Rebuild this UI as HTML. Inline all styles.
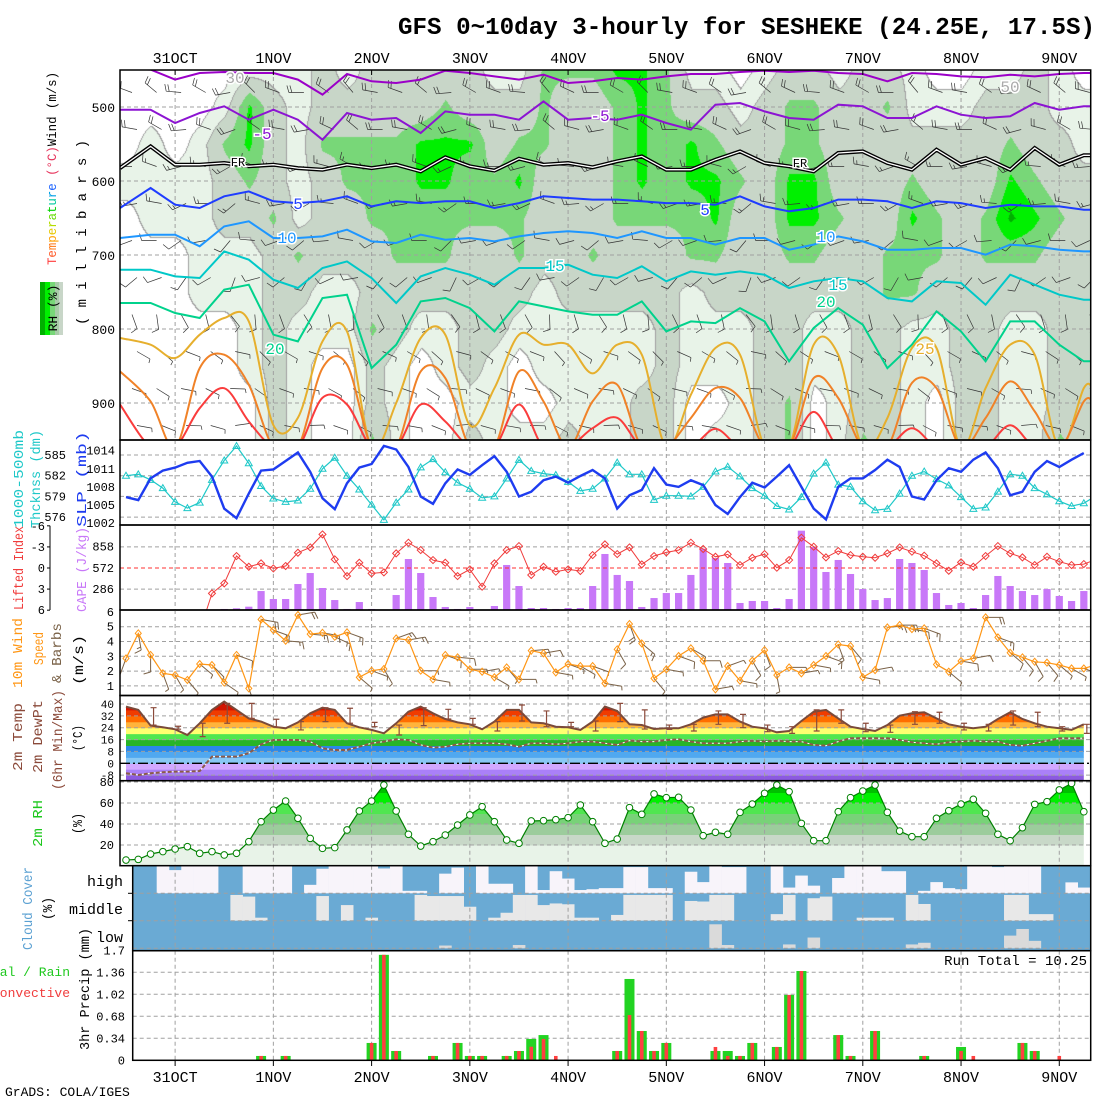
<!DOCTYPE html>
<html><head><meta charset="utf-8">
<style>
body{margin:0;background:#fff;}
#wrap{position:relative;width:1100px;height:1100px;overflow:hidden;background:#fff;}
#rhc{position:absolute;left:120px;top:70px;}
#s{position:absolute;left:0;top:0;}
text{font-family:"Liberation Mono",monospace;}
</style></head>
<body>
<div id="wrap">
<canvas id="rhc" width="971" height="370"></canvas>
<svg id="s" width="1100" height="1100" xmlns="http://www.w3.org/2000/svg">
<defs>
<clipPath id="c1"><rect x="120" y="70" width="970.7" height="370"/></clipPath>
<clipPath id="c2"><rect x="120" y="440" width="970.7" height="85"/></clipPath>
<clipPath id="c3"><rect x="120" y="525" width="970.7" height="85"/></clipPath>
<clipPath id="c4"><rect x="120" y="610" width="970.7" height="85.5"/></clipPath>
<clipPath id="c5"><rect x="120" y="695.5" width="970.7" height="85.2"/></clipPath>
<clipPath id="c6"><rect x="120" y="780.7" width="970.7" height="85"/></clipPath>
<clipPath id="c7"><rect x="132.7" y="865.7" width="958" height="85"/></clipPath>
<clipPath id="c8"><rect x="132.7" y="950.7" width="958" height="109.6"/></clipPath>
</defs>
<text x="398" y="34" font-size="24" font-weight="bold" textLength="697" lengthAdjust="spacingAndGlyphs">GFS 0~10day 3-hourly for SESHEKE (24.25E, 17.5S)</text>

<g>
<rect x="40" y="282" width="5" height="53" fill="#00b000"/><rect x="45" y="282" width="5" height="53" fill="#00f000"/><rect x="50" y="282" width="5" height="53" fill="#78d778"/><rect x="55" y="282" width="4" height="53" fill="#a8cca8"/><rect x="59" y="282" width="4" height="53" fill="#c8d6c8"/>
<text transform="translate(57,308) rotate(-90)" font-size="13" text-anchor="middle">RH (%)</text>
</g>
<text transform="translate(56,265) rotate(-90)" font-size="13" textLength="193" lengthAdjust="spacingAndGlyphs"><tspan fill="#ff3c3c">T</tspan><tspan fill="#ff5a28">e</tspan><tspan fill="#ff7814">m</tspan><tspan fill="#ffa000">p</tspan><tspan fill="#e6c800">e</tspan><tspan fill="#b4dc00">r</tspan><tspan fill="#64dc00">a</tspan><tspan fill="#00d200">t</tspan><tspan fill="#00c8a0">u</tspan><tspan fill="#00a0e6">r</tspan><tspan fill="#1e64ff">e</tspan><tspan fill="#e6325a"> (°C)</tspan><tspan fill="#000">Wind (m/s)</tspan></text>
<text transform="translate(86,325) rotate(-90)" font-size="14" textLength="185" lengthAdjust="spacing">( m i l l i b a r s )</text>

<text transform="translate(23,528) rotate(-90)" font-size="14" fill="#1ec8c8" textLength="98" lengthAdjust="spacingAndGlyphs">1000-500mb</text>
<text transform="translate(40,528) rotate(-90)" font-size="14" fill="#1ec8c8" textLength="98" lengthAdjust="spacingAndGlyphs">Thcknss (dm)</text>
<text transform="translate(86,527) rotate(-90)" font-size="14" fill="#1e3cf0" textLength="96" lengthAdjust="spacingAndGlyphs">SLP (mb)</text>
<text transform="translate(23,610) rotate(-90)" font-size="14" fill="#f03c3c" textLength="84" lengthAdjust="spacingAndGlyphs">Lifted Index</text>
<text transform="translate(86,612) rotate(-90)" font-size="14" fill="#c878f8" textLength="85" lengthAdjust="spacingAndGlyphs">CAPE (J/kg)</text>
<text transform="translate(22,688) rotate(-90)" font-size="14" fill="#ff9614" textLength="70" lengthAdjust="spacingAndGlyphs">10m Wind</text>
<text transform="translate(43,665) rotate(-90)" font-size="14" fill="#ff9614" textLength="33" lengthAdjust="spacingAndGlyphs">Speed</text>
<text transform="translate(61,683) rotate(-90)" font-size="14" fill="#7a6248" textLength="60" lengthAdjust="spacingAndGlyphs">&amp; Barbs</text>
<text transform="translate(83,685) rotate(-90)" font-size="14" textLength="50" lengthAdjust="spacingAndGlyphs">(m/s)</text>
<text transform="translate(22,771) rotate(-90)" font-size="14" fill="#8b4a3a" textLength="68" lengthAdjust="spacingAndGlyphs">2m Temp</text>
<text transform="translate(42,773) rotate(-90)" font-size="14" fill="#8b4a3a" textLength="73" lengthAdjust="spacingAndGlyphs">2m DewPt</text>
<text transform="translate(62,790) rotate(-90)" font-size="14" fill="#8b4a3a" textLength="100" lengthAdjust="spacingAndGlyphs">(6hr Min/Max)</text>
<text transform="translate(82,751) rotate(-90)" font-size="14" textLength="26" lengthAdjust="spacingAndGlyphs">(°C)</text>
<text transform="translate(42,847) rotate(-90)" font-size="14" fill="#1ec81e" textLength="47" lengthAdjust="spacingAndGlyphs">2m RH</text>
<text transform="translate(82,834) rotate(-90)" font-size="14" textLength="21" lengthAdjust="spacingAndGlyphs">(%)</text>
<text transform="translate(32,950) rotate(-90)" font-size="14" fill="#5aa0d2" textLength="83" lengthAdjust="spacingAndGlyphs">Cloud Cover</text>
<text transform="translate(52,920) rotate(-90)" font-size="14" textLength="23" lengthAdjust="spacingAndGlyphs">(%)</text>
<text x="123" y="886" font-size="15" text-anchor="end">high</text>
<text x="123" y="914" font-size="15" text-anchor="end">middle</text>
<text x="123" y="942" font-size="15" text-anchor="end">low</text>
<text x="70" y="976" font-size="13" fill="#1ec81e" text-anchor="end">Total / Rain</text>
<text x="70" y="997" font-size="13" fill="#f03c3c" text-anchor="end">Convective</text>
<text transform="translate(89,1050) rotate(-90)" font-size="14" textLength="122" lengthAdjust="spacingAndGlyphs">3hr Precip (mm)</text>
<text x="1087" y="965" font-size="14" text-anchor="end">Run Total = 10.25</text>
<text x="5" y="1096" font-size="13">GrADS: COLA/IGES</text>
<g id="dyn"></g>
</svg>
</div>
<script>
const dayLabels=["31OCT","1NOV","2NOV","3NOV","4NOV","5NOV","6NOV","7NOV","8NOV","9NOV"];
const slp=[1006.3,1005.8,1009.4,1010.7,1011.2,1012.0,1012.3,1009.7,1004.4,1002.8,1006.9,1010.7,1010.9,1012.3,1013.7,1010.5,1006.1,1004.3,1008.6,1011.2,1011.8,1014.8,1014.2,1011.3,1006.4,1005.2,1008.6,1010.9,1010.0,1011.6,1013.1,1010.5,1006.4,1007.2,1009.1,1009.7,1008.7,1009.8,1010.8,1009.4,1004.4,1006.6,1007.5,1011.1,1008.4,1008.0,1009.1,1008.3,1005.0,1003.5,1006.3,1008.7,1007.9,1009.7,1011.6,1008.0,1004.4,1002.6,1008.0,1009.4,1009.4,1010.8,1012.5,1011.3,1006.4,1005.9,1009.1,1011.1,1010.5,1012.5,1013.7,1011.1,1006.6,1007.2,1010.5,1012.3,1011.3,1012.5,1013.6];
const thick=[582.0,582.2,581.4,580.2,578.2,577.3,578.1,581.4,584.2,586.3,583.8,580.5,578.7,578.2,578.4,580.1,583.0,584.6,582.0,580.0,577.8,575.6,578.1,580.0,583.2,584.4,582.5,581.0,580.1,578.8,579.0,581.6,584.3,582.7,582.3,582.1,581.1,579.8,580.1,581.6,583.9,582.2,582.2,578.5,579.1,579.1,579.0,580.4,582.6,583.3,581.9,580.2,579.1,577.6,577.1,578.9,582.3,583.9,580.7,580.4,578.3,577.0,577.2,579.4,582.0,582.6,581.5,580.6,578.9,577.2,577.4,579.7,582.2,582.0,580.2,579.3,578.3,577.6,578.0,579.1];
const liftedIndex=[null,null,null,null,null,null,9,3.61,2.19,-1.7,-0.18,-0.66,0.06,-0.28,-2.17,-2.93,-4.78,-1.23,1.15,-0.75,0.77,0.62,-2.08,-3.6,-2.55,-1.13,-0.75,1.15,0.2,2.66,-0.66,-2.55,-3.12,1.0,-0.18,0.53,0.2,0.43,-1.84,-3.36,-1.98,-2.93,-0.51,-1.7,-2.22,-2.55,-3.6,-2.7,-1.6,-1.94,-0.42,-1.46,-1.98,-0.04,-1.13,-4.31,-3.03,-1.51,-2.41,-1.84,-1.6,-1.46,-2.08,-2.93,-2.32,-1.75,-0.66,0.39,-0.8,-0.18,-1.7,-3.12,-2.08,-1.51,-0.42,-1.6,-0.89,-0.42,-0.56,-1.23];
const cape=[0,0,0,0,0,0,0,0,14,23,45,257,149,149,352,501,298,135,14,108,14,0,203,691,501,176,41,14,41,0,54,610,325,27,27,14,27,27,325,759,475,393,41,162,230,230,475,831,705,637,95,122,122,27,149,1075,854,515,678,488,284,135,162,691,637,542,230,68,95,27,203,461,325,257,203,284,190,122,257];
const windSpeed=[2.86,4.55,3.09,1.85,1.73,1.4,2.48,2.41,1.22,3.09,0.83,5.49,4.77,4.05,5.79,4.5,4.59,4.32,4.62,1.58,2.03,2.14,4.21,4.1,2.03,1.44,3.09,2.93,2.12,1.96,1.58,2.25,1.44,3.38,3.2,1.91,2.48,2.34,2.34,1.17,3.47,5.18,3.87,1.51,2.12,3.02,3.54,2.7,0.77,2.34,1.35,2.7,3.42,1.73,2.25,1.85,2.41,3.02,3.8,3.69,1.58,2.07,4.95,5.11,4.84,4.89,2.45,1.96,2.68,2.86,5.63,4.28,3.24,2.93,2.63,2.57,2.41,2.18,2.18,2.41];
const windDir=[200,170,180,160,150,140,130,135,125,110,160,100,110,95,80,95,100,115,110,130,110,150,70,80,90,100,110,95,90,80,120,140,90,85,80,100,110,120,110,100,150,160,130,140,100,110,120,90,80,70,100,150,160,170,90,80,100,110,160,140,100,80,85,90,100,110,120,130,100,80,90,110,130,140,150,140,130,120,110,100];
const temp2m=[38.2,36,25.4,24.3,22.9,19.1,27,36,41.6,36,30.3,28.1,24.7,23.6,27.6,33.7,37.5,36,27,24.3,22.5,20.2,27,34.8,38.2,33.7,29.9,27.6,26.3,22.9,28.1,36,36,27.6,27,24.7,24.3,22.5,28.1,38.2,35.3,26.3,25.8,23.1,23.6,23.6,26.3,30.8,33,33,28.1,24.7,23.6,20.9,21.8,28.5,34.8,36,30.3,24.7,23.1,21.8,25.8,32.1,33.7,34.4,30.3,26.3,24.7,23.6,24.7,29.9,34.4,29.9,27,24.7,23.6,22.5,26.3];
const dew2m=[-6.7,-7.9,-6.7,-6.1,-5.6,-5.6,-5.2,4.5,4.5,4.5,6.8,12.8,15.7,15.7,15.7,14.6,10.1,9,9,11.2,13.5,14.6,16.2,15.7,12.4,10.6,11.2,12.8,13.5,13.5,13.5,12.8,11.2,13.5,13.5,12.8,13.5,14.6,14.6,13.5,12.4,15.3,14.6,14.6,15.7,16.2,14.6,13.5,13.5,13.5,14.6,15.1,14.6,15.1,14.6,14.6,12.4,11.9,14.6,16.9,16.9,16.9,16.9,15.7,14.2,13.5,12.8,14.2,14.6,15.1,14.6,14.6,12.4,11.9,13.5,15.1,16.9,16.9,16.9];
const tMax6h=[null,37.5,25,27,40.4,40.4,29.7,28.1,37.5,37.1,27.6,25.8,37.5,36.4,30.3,28.1,39.3,35.3,27.6,28.5,40.4,36,25.8,26.3,35.3,33,25.8,24.7,36,36,27,25.8,34.8,34.4,27,26.3,35.3,34.4,24.7,26.3];
const tMin6h=[null,25.8,23,18,27,30.3,24.3,22.5,28.1,27,24.7,19.1,25.4,29.9,26.3,21.8,28.5,24.7,24.7,21.8,28.1,23.1,22.9,21.8,26.3,24,21.3,20.2,21.8,27,21.3,20.9,26.3,27,22.5,21.8,25.8,24.7,21.8,20.2];
const rh2m=[5.7,6.3,11.4,13.7,16.2,18.4,12.1,13.7,10.5,12.1,23.2,42.2,53.3,61.9,45.4,26.3,16.8,17.5,34.3,52.4,61.9,77.1,52.4,30.2,19,23.2,29.5,39,48.6,56.5,42.2,24.8,21.6,42.9,43.2,44.1,46,58.1,42.2,21.6,25.7,55.6,49.2,68.6,65.1,65.4,53.3,28.9,32.1,30.2,51.1,59,69.2,77.1,70.8,40.6,24.1,24.1,51.7,65.1,71.4,77.1,51.1,33.3,27.9,27.9,45.4,52.7,59,63.5,50.2,30.2,24.1,36.5,58.7,61.3,72.4,78.7,51.7];
const cloudHigh=[100,100,100,0,15,0,0,0,100,100,0,0,0,0,100,69,10,0,0,0,0,9,0,91,91,100,28,6,100,0,65,65,100,0,88,19,46,88,85,81,81,4,4,81,81,100,21,59,0,4,4,100,100,0,79,35,72,100,44,0,0,0,19,19,100,91,59,81,85,0,0,4,0,0,0,100,100,60,79];
const cloudMid=[100,100,100,100,100,100,100,100,100,6,12,89,100,100,100,100,10,100,43,100,89,100,100,100,6,10,10,10,49,100,89,71,6,6,43,37,40,89,89,100,79,6,6,6,6,100,28,30,6,6,100,100,100,76,6,100,18,12,100,100,89,89,89,100,6,39,100,100,100,100,100,100,6,6,76,76,100,100,100];
const cloudLow=[100,100,100,100,100,100,100,100,100,100,100,100,100,100,100,100,100,100,100,100,100,100,100,100,100,100,90,100,100,100,100,100,88,100,100,100,100,100,100,100,100,100,100,100,100,100,100,100,13,88,100,100,100,100,86,100,61,100,100,100,100,100,100,100,86,80,100,100,100,100,100,100,54,30,73,100,100,100,100];
const precipTotal=[0,0,0,0,0,0,0,0,0,0,0,0.067,0,0.067,0,0,0,0,0,0,0.268,1.63,0.144,0,0,0.067,0,0.268,0.067,0.067,0,0.067,0.144,0.33,0.39,0,0,0,0,0,0.144,1.257,0.453,0.144,0.268,0,0,0,0.144,0.144,0.067,0.268,0,0.206,1.01,1.38,0,0,0.39,0.067,0,0.453,0,0,0,0.067,0,0,0.206,0,0,0,0,0.268,0.144,0,0,0,0];
const precipConv=[0,0,0,0,0,0,0,0,0,0,0,0.067,0,0.067,0,0,0,0,0,0,0.268,1.63,0.144,0,0,0.067,0,0.268,0.067,0.067,0,0.067,0.144,0.21,0.33,0.067,0,0,0,0,0.144,0.70,0.453,0.144,0.268,0,0,0,0.206,0.067,0.067,0.268,0,0.206,1.01,1.38,0,0,0.39,0.067,0,0.453,0,0,0,0.067,0,0,0.144,0.067,0,0,0,0.268,0.144,0,0.067,0,0];
const isoM10=[448,449.5,463,454,452.7,454,454,463,483.3,455.4,465.3,467.6,463,450.9,454,458.6,463,456.3,467.6,465.3,460.8,463,458.6,455.4,455.4,452.7,450.9,452.7,450.9,454,455.4,465.3,454,455.4,458.6,459.9,456.3,458.6,455.4,454];
const isoM5=[503.6,503.6,521.6,508.1,499.1,517.1,503.6,517.1,544.2,508.1,517.1,514.9,535.1,505.9,510.4,510.4,517.1,492.4,517.1,514.9,517.1,510.4,521.6,530.6,496.9,494.6,505.9,514.9,517.1,496.9,499.1,514.9,514.9,499.1,510.4,514.9,512.6,494.6,503.6,499.1];
const iso0=[582.5,553.2,578,578,575.7,580.2,578,582.5,584.7,578,582.5,578,587,568,580.2,586,569.8,578,575.7,581.5,573.4,566.7,584.7,584.7,571.2,560,575.7,580.2,587,562.2,560,575.7,584.7,557.7,578,569,584.7,555.4,578,565.3];
const iso5=[636.5,609.5,632,636.5,620.7,614,627.5,629.8,627.5,620.7,634.3,627.5,629.8,627.5,627.5,636.5,629.8,620.7,623,625.2,625.2,627.5,629.8,629.8,632,620.7,634.3,641,636.5,625.2,625.2,627.5,636.5,627.5,629.8,636.5,632,634.3,634.3,638.8];
const iso10=[677,672.5,672.5,688.3,661.3,654.5,677,677,674.8,665.8,681.6,683.8,672.5,679.3,677,681.6,674.8,670.3,668,670.3,677,668,677,677,686,677,677,692.8,686,674.8,681.6,692.8,692.8,690.6,690.6,699.6,686,688.3,692.8,695.1];
const iso15=[719.9,719.9,728.9,731.1,695.1,706.3,733.4,744.6,717.6,708.6,731.1,764.9,728.9,717.6,726.6,740.1,717.6,717.6,713.1,726.6,731.1,715.3,735.6,722.1,726.6,722.1,726.6,744.6,735.6,731.1,735.6,758.1,762.7,735.6,737.9,767.2,726.6,740.1,753.6,760.4];
const iso20=[764.9,764.9,778.4,785.2,746.9,740.1,807.7,816.7,758.1,753.6,852.8,821.2,762.7,758.1,771.7,803.2,762.7,769.4,776.2,780.7,780.7,762.7,803.2,789.7,792,771.7,789.7,843.7,798.7,771.7,794.2,852.8,821.2,776.2,803.2,843.7,789.7,789.7,821.2,843.7];
const iso25=[812.2,821.2,839.2,807.7,785.2,789.7,930,920,816.7,803.2,960,900,812.2,807.7,930,880,807.7,821.2,821.2,860,821.2,834.7,960,888.8,825.7,834.7,960,960,821.2,834.7,960,920.3,825.7,825.7,960,879.8,821.2,834.7,960,879.8];
const iso30=[857.3,897.8,960,852.8,834.7,875.3,960,960,852.8,848.3,960,960,857.3,866.3,960,960,857.3,897.8,960,897.8,875.3,960,960,920.3,879.8,893.3,960,960,866.3,893.3,960,960,873,879.8,960,920.3,870.8,911.3,960,897.8];
const iso35=[902,960,960,907,880,925,960,960,893,902,960,960,902,925,960,960,902,960,960,934,920,960,960,960,935,960,960,960,912,960,960,960,934,960,960,960,930,960,960,960];
const rhBand450="0000011121222221133344311012212210011210";
const rhBand500="0000142122222322232234322123322311122211";
const rhBand550="0101342133334442332234343223322222223221";
const rhBand600="1111232123334433422234344324422232224322";
const rhBand650="0111223122333333322233334224432243235432";
const rhBand700="0001112322233322322322233223322333233322";
const rhBand750="0001112211222222212222212222222332222222";
const rhBand800="0000012111321122111111211122112211221122";
const rhBand850="0000012100210121011111211122112211221122";
const rhBand900="0000002100210011001112200123012210221122";
const rhBand950="0000002100310021112112201123013210221132";
const upperDir=[290,280,270,260,250,230,160,120,110,100];
const upperSpd=[12,10,9,8,6,5,5,4,4,3];
const upperColTurn=[0,20,-15,10,-30,25,0,-20,15,30,-10,0,20,-25,10,0,-15,30,5,-20,10,25,-10,0,15,-30,20,5,-15,0,10,-20,30,0,-10,15,-25,5,20,-5];

const X0=126, DX=12.28, PL=120, PR=1090.7;
function xi(i){return X0+DX*i;}
function xd(d){return xi(4+8*d);}
function yP(p){return 70+(p-450)*0.74;}
function ySLP(v){return 450.7+(1014-v)*6.03;}
function yThk(v){return 455+(585-v)*6.9;}
function yLI(v){return 568+v*7.03;}
function yCAPE(v){return 610-v/13.55;}
function ySpd(v){return 626.7+(5-v)*14.8;}
function yT(v){return 763.3-1.483*v;}
function yRH(v){return 866-1.05*v;}
function yPr(v){return 1060.3-v*64.7;}

const NS='http://www.w3.org/2000/svg';
const root=document.getElementById('dyn');
function el(tag,parent){const e=document.createElementNS(NS,tag);(parent||root).appendChild(e);return e;}
function at(e,o){for(const k in o)e.setAttribute(k,o[k]);return e;}
function grp(name,clip){const g=el('g');if(clip)g.setAttribute('clip-path','url(#'+clip+')');


return g;}
function hgrid(g,y,x1,x2,col){const l=at(el('line',g),{x1:x1,x2:x2,y1:y,y2:y,stroke:col||'#a0a0a0','stroke-width':1,'stroke-dasharray':'4,3'});

}
function vgrids(g,y1,y2){for(let d=0;d<dayLabels.length;d++){const l=at(el('line',g),{x1:xd(d),x2:xd(d),y1:y1,y2:y2,stroke:'#a0a0a0','stroke-width':1,'stroke-dasharray':'4,3'});

}}
function label(g,x,y,txt,size,anchor,fill,name){const t=at(el('text',g),{x:x,y:y,'font-size':size,'text-anchor':anchor||'end',fill:fill||'#000'});t.textContent=txt;

return t;}
function pathFrom(xs,ys){let d='',pen=false;for(let i=0;i<xs.length;i++){if(ys[i]===null||isNaN(ys[i])){pen=false;continue;}d+=(pen?'L':'M')+xs[i].toFixed(1)+','+ys[i].toFixed(1);pen=true;}return d;}
function smoothPath(xs,ys){let d='M'+xs[0].toFixed(1)+','+ys[0].toFixed(1);for(let i=0;i<xs.length-1;i++){const x0=xs[Math.max(0,i-1)],y0=ys[Math.max(0,i-1)],x1=xs[i],y1=ys[i],x2=xs[i+1],y2=ys[i+1],x3=xs[Math.min(xs.length-1,i+2)],y3=ys[Math.min(xs.length-1,i+2)];
d+='C'+(x1+(x2-x0)/6).toFixed(1)+','+(y1+(y2-y0)/6).toFixed(1)+' '+(x2-(x3-x1)/6).toFixed(1)+','+(y2-(y3-y1)/6).toFixed(1)+' '+x2.toFixed(1)+','+y2.toFixed(1);}return d;}
function barb(g,x,y,dir,spd,L,col,w){const r=dir*Math.PI/180;const ux=Math.sin(r),uy=-Math.cos(r);const ex=x+ux*L,ey=y+uy*L;
let d='M'+x.toFixed(1)+','+y.toFixed(1)+'L'+ex.toFixed(1)+','+ey.toFixed(1);
const px=-uy,py=ux;let n=Math.floor(spd/5),half=(spd%5)>=2.5?1:0;if(n===0&&half===0)half=1;let k=0;
for(let j=0;j<n;j++){const bx=ex-ux*k*3,by=ey-uy*k*3;d+='M'+bx.toFixed(1)+','+by.toFixed(1)+'l'+(px*7+ux*2).toFixed(1)+','+(py*7+uy*2).toFixed(1);k++;}
if(half){const bx=ex-ux*k*3,by=ey-uy*k*3;d+='M'+bx.toFixed(1)+','+by.toFixed(1)+'l'+(px*4+ux*1).toFixed(1)+','+(py*4+uy*1).toFixed(1);}
const p=at(el('path',g),{d:d,stroke:col,'stroke-width':w,fill:'none'});

}
function frame(x,y,w,h,name){const r=at(el('rect'),{x:x,y:y,width:w,height:h,fill:'none',stroke:'#000','stroke-width':1.5});

}

(function(){
const rows=[rhBand450,rhBand500,rhBand550,rhBand600,rhBand650,rhBand700,rhBand750,rhBand800,rhBand850,rhBand900,rhBand950].map(s=>s.split('').map(Number));
const cols=[[255,255,255],[232,243,232],[200,214,200],[120,215,120],[0,240,0],[0,176,0]];
const cv=document.getElementById('rhc');const ctx=cv.getContext('2d');const W=cv.width,H=cv.height;
const img=ctx.createImageData(W,H);const band=new Uint8Array(W*H);
for(let y=0;y<H;y++){const p=450+y/0.74;let r=(p-450)/50;r=Math.max(0,Math.min(10,r));const r0=Math.min(9,Math.floor(r)),fr=r-r0;
for(let x=0;x<W;x++){let c=(x+120-X0)/(2*DX);c=Math.max(0,Math.min(39,c));const c0=Math.min(38,Math.floor(c)),fc=c-c0;
const v=(rows[r0][c0]*(1-fc)+rows[r0][c0+1]*fc)*(1-fr)+(rows[r0+1][c0]*(1-fc)+rows[r0+1][c0+1]*fc)*fr;
band[y*W+x]=Math.min(5,v>2?Math.floor(v+0.2):Math.floor(v+0.5));}}
for(let y=0;y<H;y++)for(let x=0;x<W;x++){const b=band[y*W+x];let col=cols[b];
if(x>0&&y>0){const bl=band[y*W+x-1],bu=band[(y-1)*W+x];if((bl!==b&&Math.min(bl,b)<2)||(bu!==b&&Math.min(bu,b)<2))col=[160,160,160];}
const o=(y*W+x)*4;img.data[o]=col[0];img.data[o+1]=col[1];img.data[o+2]=col[2];img.data[o+3]=255;}
ctx.putImageData(img,0,0);
})();

(function(){
const g=grp('upper-air-panel','c1');
[500,600,700,800,900].forEach(p=>hgrid(g,yP(p),PL,PR));
vgrids(g,70,440);
for(let k=0;k<40;k++)for(let l=0;l<upperDir.length;l++){const x=xi(2*k)+6+(l%2)*5,y=yP(475+50*l)+4;
barb(g,x,y,upperDir[l]+upperColTurn[k]*(l<6?1:0.6),upperSpd[l],15,'#333',0.7);}
const isoList=[[isoM10,'#9b00c8',2,'isotherm-minus10'],[isoM5,'#8c14d2',2,'isotherm-minus5'],[iso5,'#1e3cff',2,'isotherm-5'],[iso10,'#1e96ff',2,'isotherm-10'],[iso15,'#00c8c8',2,'isotherm-15'],[iso20,'#00d28c',2,'isotherm-20'],[iso25,'#e6af2d',2,'isotherm-25'],[iso30,'#f08228',2,'isotherm-30'],[iso35,'#fa3c3c',2,'isotherm-35']];
isoList.forEach((L,n)=>{const xs=L[0].map((v,k)=>xi(2*k));xs[0]=PL;const ys=L[0].map(yP);xs.push(PR+2);ys.push(ys[ys.length-1]);
const p=at(el('path',g),{d:n>=6?smoothPath(xs,ys):pathFrom(xs,ys),stroke:L[1],'stroke-width':L[2],fill:'none'});

});
const xs0=iso0.map((v,k)=>xi(2*k));xs0[0]=PL;const ys0=iso0.map(yP);xs0.push(PR+2);ys0.push(ys0[ys0.length-1]);
const f1=at(el('path',g),{d:pathFrom(xs0,ys0),stroke:'#000','stroke-width':4,fill:'none'});


const f2=at(el('path',g),{d:pathFrom(xs0,ys0),stroke:'#fff','stroke-width':1.3,fill:'none'});


const lab=[[262,139,'-5','#8c14d2'],[600,121,'-5','#8c14d2'],[238,166,'FR','#000'],[800,167,'FR','#000'],[298,209,'5','#1e3cff'],[705,215,'5','#1e3cff'],[287,243,'10','#1e96ff'],[826,242,'10','#1e96ff'],[555,271,'15','#00c8c8'],[838,290,'15','#00c8c8'],[275,354,'20','#00d28c'],[826,307,'20','#00d28c'],[925,354,'25','#e6af2d'],[235,83,'30','#aaa'],[1010,92,'50','#aaa']];
lab.forEach(a=>{const t=label(g,a[0],a[1],a[2],a[3]==='#000'?12:16,'middle',a[3],'contour-label');t.setAttribute('stroke','#fff');t.setAttribute('stroke-width','3');t.setAttribute('paint-order','stroke');});
const ax=grp('pressure-axis');
[500,600,700,800,900].forEach(p=>label(ax,115,yP(p)+5,String(p),13,'end','#000','pressure-tick-'+p));
const top=grp('top-date-axis');
dayLabels.forEach((d,j)=>{label(top,xd(j),63,d,15,'middle','#000','top-date-'+d);
const t=at(el('line',top),{x1:xd(j),x2:xd(j),y1:70,y2:75,stroke:'#000'});});
frame(120,70,970.7,370,'upper-air-frame');
})();

(function(){
const g=grp('slp-thickness-panel','c2');
[585,582,579,576].forEach(v=>hgrid(g,yThk(v),PL,PR));
vgrids(g,440,525);
const xsT=thick.map((v,i)=>xi(i));
const pt=at(el('path',g),{d:pathFrom(xsT,thick.map(yThk)),stroke:'#1ec8c8','stroke-width':1.2,fill:'none'});


thick.forEach((v,i)=>{const x=xi(i),y=yThk(v);const m=at(el('path',g),{d:'M'+x+','+(y-3.5)+'l3.5,6h-7z',stroke:'#1ec8c8','stroke-width':1,fill:'none'});

});
const ps=at(el('path',g),{d:pathFrom(slp.map((v,i)=>xi(i)),slp.map(ySLP)),stroke:'#1e3cf0','stroke-width':2.4,fill:'none'});


const ax=grp('slp-thickness-axes');
[585,582,579,576].forEach(v=>label(ax,66,yThk(v)+4,String(v),12,'end','#000','thickness-tick-'+v));
[1014,1011,1008,1005,1002].forEach(v=>label(ax,115,ySLP(v)+4,String(v),12,'end','#000','slp-tick-'+v));
frame(120,440,970.7,85,'slp-thickness-frame');
})();

(function(){
const g=grp('cape-li-panel','c3');
[-3,3].forEach(v=>hgrid(g,yLI(v),PL,PR));
vgrids(g,525,610);
cape.forEach((v,i)=>{if(v<=0)return;const y=yCAPE(v);const r=at(el('rect',g),{x:xi(i)-3.6,y:y,width:7.2,height:610-y,fill:'#c878f8'});

});
hgrid(g,yLI(0),PL,PR,'#ff3030');
const pl=at(el('path',g),{d:pathFrom(liftedIndex.map((v,i)=>xi(i)),liftedIndex.map(v=>v===null?null:yLI(v))),stroke:'#f03c3c','stroke-width':1,fill:'none'});


liftedIndex.forEach((v,i)=>{if(v===null||v>6)return;const x=xi(i),y=yLI(v);const m=at(el('path',g),{d:'M'+x+','+(y-3.5)+'l3.5,3.5l-3.5,3.5l-3.5,-3.5z',stroke:'#f03c3c','stroke-width':1,fill:'none'});

});
const ax=grp('cape-li-axes');
const al=at(el('line',ax),{x1:50,x2:50,y1:525.7,y2:610,stroke:'#000','stroke-width':1});
[-6,-3,0,3,6].forEach(v=>{label(ax,45,yLI(v)+4,String(v),12,'end','#000','li-tick-'+v);const t=at(el('line',ax),{x1:47,x2:50,y1:yLI(v),y2:yLI(v),stroke:'#000'});});
[858,572,286].forEach(v=>label(ax,114,yCAPE(v)+4,String(v),12,'end','#000','cape-tick-'+v));
frame(120,525,970.7,85,'cape-li-frame');
})();

(function(){
const g=grp('wind-panel','c4');
[1,2,3,4,5].forEach(v=>hgrid(g,ySpd(v),PL,PR));
vgrids(g,610,695.5);
windSpeed.forEach((v,i)=>barb(g,xi(i),ySpd(v),windDir[i],v*2,17,'#7a6248',1));
const pw=at(el('path',g),{d:pathFrom(windSpeed.map((v,i)=>xi(i)),windSpeed.map(ySpd)),stroke:'#ff9614','stroke-width':1.2,fill:'none'});


windSpeed.forEach((v,i)=>{const x=xi(i),y=ySpd(v);const m=at(el('path',g),{d:'M'+x+','+(y-3.5)+'l3,3.5l-3,3.5l-3,-3.5z',stroke:'#ff9614','stroke-width':1,fill:'none'});

});
const ax=grp('wind-axis');
[1,2,3,4,5,6].forEach(v=>label(ax,114,ySpd(v)+4,String(v),12,'end','#000','speed-tick-'+v));
frame(120,610,970.7,85.5,'wind-frame');
})();

(function(){
const g=grp('temperature-panel','c5');
const bands=[[-12,-8,'#8c5ae0'],[-8,-4,'#aa80f8'],[-4,0,'#d2a8ff'],[0,4,'#88c8f4'],[4,8,'#50a8f0'],[8,12,'#2a88ea'],[12,16,'#28b428'],[16,20,'#50e650'],[20,24,'#ffff70'],[24,28,'#ffb43c'],[28,32,'#ff6e00'],[32,36,'#f03c00'],[36,40,'#d21400'],[40,50,'#b40000']];
const cp=el('clipPath',g);cp.setAttribute('id','tclip');
let pts='M'+xi(0)+',781 '+temp2m.map((v,i)=>'L'+xi(i).toFixed(1)+','+yT(v).toFixed(1)).join(' ')+' L'+xi(temp2m.length-1).toFixed(1)+',781Z';
at(el('path',cp),{d:pts});
const fg=el('g',g);fg.setAttribute('clip-path','url(#tclip)');


bands.forEach(b=>{const r=at(el('rect',fg),{x:PL,y:yT(b[1]),width:971,height:yT(b[0])-yT(b[1])+0.5,fill:b[2]});

});
[40,32,24,16,8,-8].forEach(v=>hgrid(g,yT(v),PL,PR));
vgrids(g,695.5,780.7);
const z=at(el('line',g),{x1:PL,x2:PR,y1:yT(0),y2:yT(0),stroke:'#000','stroke-width':1.3,'stroke-dasharray':'10,3,2,3'});


const pt=at(el('path',g),{d:pathFrom(temp2m.map((v,i)=>xi(i)),temp2m.map(yT)),stroke:'#7a4a3a','stroke-width':2,fill:'none'});


const pw=at(el('path',g),{d:pathFrom(dew2m.map((v,i)=>xi(i)),dew2m.map(yT)),stroke:'#fff','stroke-width':1,fill:'none'});


const pd=at(el('path',g),{d:pathFrom(dew2m.map((v,i)=>xi(i)),dew2m.map(yT)),stroke:'#8b5a4a','stroke-width':2,fill:'none','stroke-dasharray':'4,2'});


tMax6h.forEach((v,k)=>{if(v===null)return;const x=xi(2*k)+3,y1=yT(v),y2=yT(tMin6h[k]);
const b=at(el('path',g),{d:'M'+(x-3)+','+y1+'h6M'+x+','+y1+'V'+y2+'M'+(x-3)+','+y2+'h6',stroke:'#8b4a3a','stroke-width':1.2,fill:'none'});

});
const ax=grp('temperature-axis');
[40,32,24,16,8,0,-8].forEach(v=>label(ax,114,yT(v)+4,String(v),11,'end','#000','temp-tick-'+v));
frame(120,695.5,970.7,85.2,'temperature-frame');
})();

(function(){
const g=grp('rh2m-panel','c6');
const bands=[[0,20,'#e8f3e8'],[20,30,'#c8d8c8'],[30,40,'#9ccc9c'],[40,50,'#78d278'],[50,60,'#50e650'],[60,70,'#00f000'],[70,100,'#00c000']];
const cp=el('clipPath',g);cp.setAttribute('id','rclip');
at(el('path',cp),{d:'M'+xi(0)+',866 '+rh2m.map((v,i)=>'L'+xi(i).toFixed(1)+','+yRH(v).toFixed(1)).join(' ')+' L'+xi(rh2m.length-1).toFixed(1)+',866Z'});
const fg=el('g',g);fg.setAttribute('clip-path','url(#rclip)');


bands.forEach(b=>{const r=at(el('rect',fg),{x:PL,y:yRH(b[1]),width:971,height:yRH(b[0])-yRH(b[1])+0.5,fill:b[2]});

});
[20,40,60,80].forEach(v=>hgrid(g,yRH(v),PL,PR));
vgrids(g,780.7,865.7);
const pr=at(el('path',g),{d:pathFrom(rh2m.map((v,i)=>xi(i)),rh2m.map(yRH)),stroke:'#008000','stroke-width':1.2,fill:'none'});


rh2m.forEach((v,i)=>{const c=at(el('circle',g),{cx:xi(i),cy:yRH(v),r:3.3,fill:'#fff',stroke:'#008000','stroke-width':1});

});
const ax=grp('rh2m-axis');
[80,60,40,20].forEach(v=>label(ax,114,yRH(v)+4,String(v),12,'end','#000','rh-tick-'+v));
frame(120,780.7,970.7,85,'rh2m-frame');
})();

(function(){
const g=grp('cloud-panel','c7');
const rowsDef=[[cloudHigh,866,893.3,'#f8f4fa','cloud-high'],[cloudMid,893.3,920.7,'#e8e8e8','cloud-middle'],[cloudLow,920.7,948.3,'#dadada','cloud-low']];
const bgr=at(el('rect',g),{x:132.7,y:865.7,width:958,height:85,fill:'#6aaad4'});


rowsDef.forEach(R=>{const h=R[2]-R[1];
R[0].forEach((v,i)=>{const r=at(el('rect',g),{x:xi(i)-DX/2,y:R[1]+h*v/100,width:DX+0.3,height:h*(1-v/100),fill:R[3]});

});});
[893.3,920.7,948.3].forEach(y=>hgrid(g,y,132.7,PR));
vgrids(g,865.7,950.7);
const ax=grp('cloud-axis');
[893.3,920.7].forEach(y=>{const t=at(el('line',ax),{x1:128,x2:133,y1:y,y2:y,stroke:'#000'});});
frame(132.7,865.7,958,85,'cloud-frame');
})();

(function(){
const g=grp('precip-panel','c8');
[0.34,0.68,1.02,1.36,1.7].forEach(v=>hgrid(g,yPr(v),132.7,PR));
vgrids(g,950.7,1060.3);
precipTotal.forEach((v,i)=>{if(v<=0)return;const y=yPr(v);const r=at(el('rect',g),{x:xi(i)-5,y:y,width:10,height:1060.3-y,fill:'#22d322'});

});
precipConv.forEach((v,i)=>{if(v<=0)return;const y=yPr(v);const r=at(el('rect',g),{x:xi(i)-1.8,y:y,width:3.6,height:1060.3-y,fill:'#ff4040'});

});
const ax=grp('precip-axes');
[[1.7,'1.7'],[1.36,'1.36'],[1.02,'1.02'],[0.68,'0.68'],[0.34,'0.34'],[0,'0']].forEach(a=>label(ax,125,yPr(a[0])+4,a[1],12,'end','#000','precip-tick-'+a[1]));
dayLabels.forEach((d,j)=>{label(ax,xd(j),1082,d,15,'middle','#000','bottom-date-'+d);
const t=at(el('line',ax),{x1:xd(j),x2:xd(j),y1:1060.3,y2:1066,stroke:'#000'});});
frame(132.7,950.7,958,109.6,'precip-frame');
})();
</script>
</body></html>
